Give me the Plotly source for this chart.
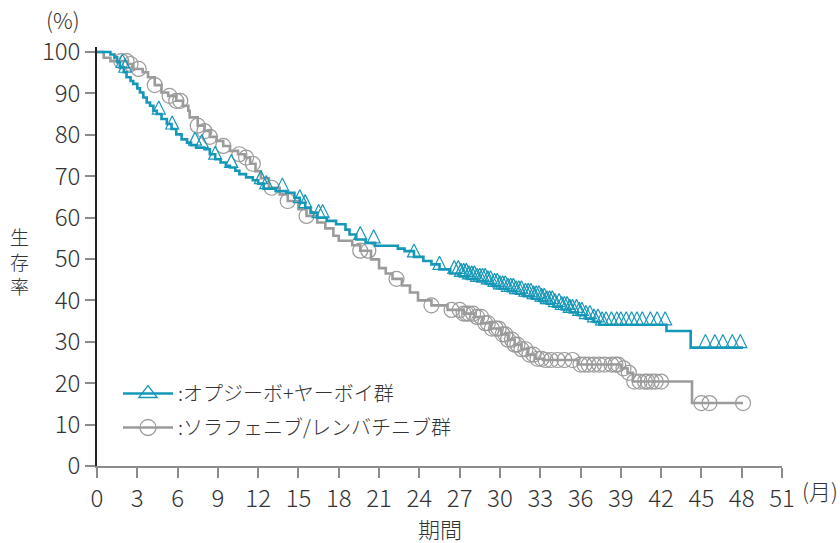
import numpy as np
import plotly.graph_objects as go

# ---------------- data ----------------
blue_name = ":オプジーボ+ヤーボイ群"
grey_name = ":ソラフェニブ/レンバチニブ群"

blue_time = [0, 1.0, 1.3, 1.5, 1.7, 2.0, 2.2, 2.5, 2.7, 3.0, 3.2, 3.45, 3.7, 3.95, 4.2, 4.45,
             4.8, 5.2, 5.55, 5.9, 6.3, 6.7, 7.0, 7.4, 8.0, 8.4, 8.8, 9.2, 9.6, 9.9, 10.3, 10.6,
             11.1, 11.6, 12.0, 12.4, 13.3, 14.1, 14.7, 15.1, 15.5, 15.9, 16.4, 17.1, 17.8, 18.5,
             18.8, 19.3, 20.0, 20.7, 22.4, 22.9, 23.6, 24.3, 24.9, 25.5, 26.3, 27.0, 27.6, 28.3,
             29.0, 29.5, 30.0, 30.6, 31.2, 31.8, 32.4, 33.0, 33.5, 34.0, 34.6, 35.2, 35.8, 36.4,
             37.0, 37.4, 42.4, 44.2, 48.1]
blue_surv = [100, 99.4, 98.7, 97.5, 96.3, 95.1, 93.9, 93.0, 92.3, 91.2, 90.2, 89.0, 87.8, 87.0, 85.8, 85.0,
             83.8, 82.6, 81.4, 80.1, 78.9, 78.1, 77.5, 76.9, 76.5, 75.3, 74.1, 73.3, 72.5, 72.1, 71.3, 70.5,
             69.7, 69.0, 68.2, 67.0, 66.4, 66.0, 64.8, 63.6, 62.4, 61.2, 60.0, 59.2, 58.4, 57.1,
             55.9, 54.7, 53.9, 53.2, 52.5, 51.9, 50.5, 49.5, 48.7, 47.5, 46.5, 45.8, 45.2, 44.6,
             44.0, 43.4, 42.8, 42.2, 41.6, 41.0, 40.4, 39.8, 39.2, 38.5, 37.8, 37.1, 36.4, 35.6,
             34.8, 34.1, 32.6, 28.6, 28.6]
blue_censor = [0, 0.6, 1.0, 1.9, 2.1, 4.6, 5.6, 7.3, 7.8, 8.8, 10.0, 12.2, 12.6, 13.8, 15.1, 15.5,
               16.5, 16.8, 19.6, 20.6, 23.6, 25.5, 26.6, 26.9, 27.1, 27.3, 27.5, 27.7, 27.9, 28.1,
               28.3, 28.5, 28.7, 28.9, 29.1, 29.3, 29.6, 29.8, 30.0, 30.2, 30.4, 30.6, 30.8, 31.0,
               31.2, 31.4, 31.6, 31.9, 32.1, 32.3, 32.5, 32.7, 32.9, 33.1, 33.3, 33.5, 33.7, 33.9,
               34.1, 34.4, 34.6, 34.8, 35.0, 35.2, 35.4, 35.7, 35.9, 36.1, 36.4, 36.7, 37.0, 37.3,
               37.6, 37.9, 38.3, 38.7, 39.0, 39.4, 39.8, 40.2, 40.6, 41.2, 41.7, 42.3, 45.3, 46.0,
               46.6, 47.3, 47.9]

grey_time = [0, 0.5, 1.0, 2.3, 2.7, 3.4, 3.8, 4.3, 4.8, 5.3, 5.9, 6.4, 6.8, 6.9, 7.5, 8.0, 8.4,
             8.9, 9.4, 9.9, 10.5, 11.0, 11.4, 11.8, 12.2, 12.8, 13.6, 14.2, 15.0, 15.6, 16.4, 17.0,
             17.6, 18.0, 19.0, 19.6, 20.4, 21.0, 21.5, 22.0, 22.7, 23.3, 23.9, 24.9, 26.1, 27.3,
             28.1, 28.7, 29.3, 30.1, 30.6, 31.1, 31.6, 32.1, 32.6, 33.2, 35.8, 39.0, 39.5, 39.9,
             44.3, 48.1]
grey_surv = [100, 98.6, 97.8, 97.1, 95.9, 95.1, 93.9, 92.0, 90.2, 89.4, 88.2, 87.0, 85.8, 84.2, 82.2, 80.9, 79.5,
             78.5, 77.3, 76.1, 75.3, 74.5, 73.0, 71.2, 69.5, 67.2, 65.6, 64.0, 62.0, 60.4, 58.8, 57.4,
             55.6, 54.4, 53.3, 52.0, 49.9, 47.8, 46.5, 45.2, 43.6, 41.9, 40.0, 38.8, 37.7, 36.8,
             36.0, 34.5, 33.2, 31.8, 30.5, 29.3, 28.2, 26.9, 25.9, 25.6, 24.5, 23.6, 22.5, 20.4,
             15.2, 15.2]
grey_censor = [1.8, 2.2, 2.5, 3.1, 4.3, 5.4, 5.9, 6.2, 7.5, 8.0, 8.4, 9.4, 10.6, 11.1, 11.6, 13.0,
               14.2, 15.6, 19.6, 20.2, 22.3, 24.9, 26.4, 27.0, 27.3, 27.5, 27.7, 28.0, 28.3, 28.6,
               28.9, 29.1, 29.4, 29.7, 29.9, 30.2, 30.4, 30.6, 30.9, 31.1, 31.3, 31.6, 31.9, 32.2,
               32.5, 32.8, 33.1, 33.4, 33.8, 34.3, 34.8, 35.4, 36.0, 36.3, 36.6, 37.0, 37.4, 37.8,
               38.3, 38.6, 38.8, 39.2, 39.6, 40.0, 40.4, 40.8, 41.0, 41.3, 41.6, 42.0, 45.0, 45.6, 48.1]

x_ticks = list(range(0, 52, 3))
y_ticks = list(range(0, 101, 10))

# ---------------- style ----------------
BLUE = "#1597b8"
GREY = "#9b9b9b"
TXT = "#333333"
FONT = "Noto Sans CJK JP"

W, H = 840, 543
ML, MR, MT, MB = 97, 58, 47, 77
Y_MAX = 101.2
px_per_unit = (H - MT - MB) / Y_MAX
TRI = 13


def step_value(times, surv, t):
    idx = np.searchsorted(np.asarray(times), t, side="right") - 1
    return surv[max(idx, 0)]


blue_cy = [step_value(blue_time, blue_surv, t) + TRI / px_per_unit for t in blue_censor]
grey_cy = [step_value(grey_time, grey_surv, t) for t in grey_censor]

fig = go.Figure()

fig.add_trace(go.Scatter(x=grey_time, y=grey_surv, mode="lines",
                         line=dict(shape="hv", color=GREY, width=2.6),
                         showlegend=False, cliponaxis=False, hoverinfo="skip"))
fig.add_trace(go.Scatter(x=grey_censor, y=grey_cy, mode="markers",
                         marker=dict(symbol="circle-open", size=15, color=GREY,
                                     line=dict(width=1.2, color=GREY)),
                         showlegend=False, cliponaxis=False))
fig.add_trace(go.Scatter(x=blue_time, y=blue_surv, mode="lines",
                         line=dict(shape="hv", color=BLUE, width=2.6),
                         showlegend=False, cliponaxis=False, hoverinfo="skip"))
fig.add_trace(go.Scatter(x=blue_censor, y=blue_cy, mode="markers",
                         marker=dict(symbol="arrow-up-open", size=TRI, color=BLUE,
                                     line=dict(width=1.2, color=BLUE)),
                         showlegend=False, cliponaxis=False))

# legend entries
fig.add_trace(go.Scatter(x=[None], y=[None], mode="lines+markers", name=blue_name,
                         legendgroup="a",
                         line=dict(color=BLUE, width=2.6),
                         marker=dict(symbol="triangle-up-open", size=16, color=BLUE,
                                     line=dict(width=1.3, color=BLUE))))
fig.add_trace(go.Scatter(x=[None], y=[None], mode="lines+markers", name=grey_name,
                         legendgroup="b",
                         line=dict(color=GREY, width=2.6),
                         marker=dict(symbol="circle-open", size=16, color=GREY,
                                     line=dict(width=1.3, color=GREY))))


def px_x(p):
    return (p - ML) / (W - ML - MR)


def px_y(p):
    return (H - MB - p) / (H - MT - MB)


ann = [
    dict(text="(%)", x=px_x(63), y=px_y(19), size=22),
    dict(text="期間", x=px_x(440), y=px_y(528), size=22),
    dict(text="(月)", x=px_x(820), y=px_y(490), size=22),
    dict(text="生<br>存<br>率", x=px_x(19), y=px_y(261), size=19),
]
annotations = [dict(text=a["text"], x=a["x"], y=a["y"], xref="paper", yref="paper",
                    showarrow=False, xanchor="center", yanchor="middle",
                    font=dict(family=FONT, size=a["size"], color=TXT, weight=300))
               for a in ann]

fig.update_layout(
    width=W, height=H,
    margin=dict(l=ML, r=MR, t=MT, b=MB, pad=0),
    plot_bgcolor="white", paper_bgcolor="white",
    font=dict(family=FONT, size=22, color=TXT, weight=300),
    showlegend=True,
    legend=dict(x=px_x(118), y=px_y(374), xanchor="left", yanchor="top",
                bgcolor="rgba(0,0,0,0)", font=dict(family=FONT, size=20, color=TXT, weight=300),
                itemwidth=50, tracegroupgap=5),
    annotations=annotations,
    xaxis=dict(range=[0, 51], tickvals=x_ticks, ticktext=[str(v) for v in x_ticks],
               showgrid=False, zeroline=False, showline=True, linecolor="#8c8c8c", linewidth=2,
               ticks="outside", ticklen=10, tickwidth=1.5, tickcolor="#8c8c8c",
               tickfont=dict(family=FONT, size=24, color=TXT, weight=300)),
    yaxis=dict(range=[0, Y_MAX], tickvals=y_ticks, ticktext=[str(v) for v in y_ticks],
               showgrid=False, zeroline=False, showline=True, linecolor="#222222", linewidth=1.5,
               ticks="outside", ticklen=10, tickwidth=2, tickcolor="#8c8c8c",
               tickfont=dict(family=FONT, size=24, color=TXT, weight=300)),
)

fig.write_html("out.html", config={"displayModeBar": False},
               post_script="document.body.style.margin='0';")
